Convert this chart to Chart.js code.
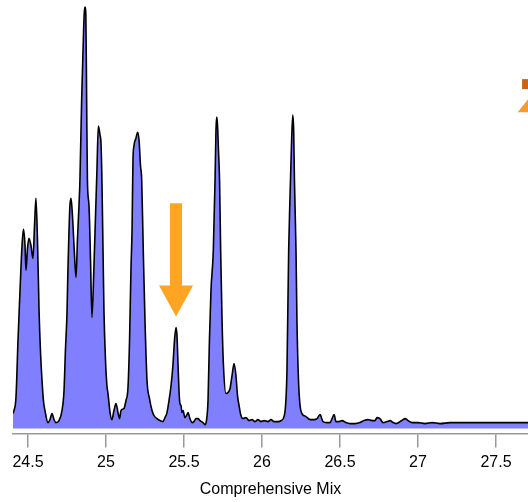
<!DOCTYPE html>
<html>
<head>
<meta charset="utf-8">
<script src="https://cdn.jsdelivr.net/npm/chart.js@4/dist/chart.umd.min.js"></script>
<style>
  html, body { margin: 0; padding: 0; background: #fff; }
  canvas { display: block; }
</style>
</head>
<body>
<canvas id="chromChart" width="528" height="502"></canvas>
<script>
// Retention time (min) and detector signal
const retention = [
    24.404, 24.410, 24.423, 24.436, 24.449, 24.462, 24.471, 24.481, 24.487, 24.497,
    24.506, 24.519, 24.532, 24.542, 24.551, 24.561, 24.571, 24.580, 24.590, 24.599,
    24.609, 24.628, 24.641, 24.654, 24.667, 24.679, 24.699, 24.718, 24.731, 24.740,
    24.750, 24.756, 24.763, 24.769, 24.776, 24.785, 24.795, 24.808, 24.817, 24.827,
    24.833, 24.844, 24.853, 24.860, 24.865, 24.871, 24.876, 24.881, 24.891, 24.901,
    24.910, 24.923, 24.936, 24.942, 24.951, 24.962, 24.968, 24.974, 24.981, 24.987,
    24.997, 25.006, 25.013, 25.026, 25.038, 25.051, 25.064, 25.077, 25.087, 25.096,
    25.115, 25.128, 25.141, 25.151, 25.160, 25.167, 25.173, 25.179, 25.192, 25.203,
    25.212, 25.221, 25.229, 25.239, 25.250, 25.263, 25.279, 25.295, 25.308, 25.327,
    25.346, 25.365, 25.378, 25.391, 25.404, 25.417, 25.429, 25.439, 25.449, 25.455,
    25.462, 25.468, 25.474, 25.481, 25.487, 25.494, 25.506, 25.519, 25.526, 25.538,
    25.551, 25.564, 25.577, 25.590, 25.603, 25.622, 25.635, 25.644, 25.654, 25.663,
    25.673, 25.688, 25.699, 25.705, 25.710, 25.715, 25.721, 25.728, 25.735, 25.744,
    25.753, 25.769, 25.782, 25.795, 25.808, 25.821, 25.833, 25.843, 25.853, 25.865,
    25.878, 25.897, 25.917, 25.936, 25.955, 25.974, 25.994, 26.013, 26.038, 26.058,
    26.077, 26.103, 26.122, 26.141, 26.151, 26.160, 26.171, 26.179, 26.188, 26.197,
    26.203, 26.208, 26.218, 26.224, 26.234, 26.244, 26.256, 26.282, 26.308, 26.333,
    26.353, 26.372, 26.391, 26.417, 26.436, 26.449, 26.462, 26.474, 26.494, 26.513,
    26.538, 26.564, 26.596, 26.628, 26.654, 26.679, 26.705, 26.724, 26.737, 26.756,
    26.776, 26.801, 26.821, 26.840, 26.859, 26.885, 26.904, 26.917, 26.936, 26.962,
    27.000, 27.045, 27.090, 27.141, 27.205, 27.333, 27.526, 27.705
];
const signal = [
    15, 18, 31, 88, 138, 183, 199, 183, 158, 180,
    190, 183, 170, 203, 230, 188, 118, 78, 48, 28,
    18, 6, 9, 15, 9, 6, 8, 18, 38, 78,
    115, 158, 198, 223, 230, 213, 183, 151, 188, 223,
    248, 328, 378, 413, 421, 413, 328, 248, 223, 168,
    111, 163, 228, 258, 302, 293, 285, 248, 178, 118,
    68, 43, 35, 16, 9, 18, 25, 16, 10, 18,
    20, 28, 41, 88, 158, 198, 268, 282, 290, 296,
    288, 263, 248, 178, 108, 48, 30, 18, 13, 10,
    8, 7, 11, 16, 28, 43, 63, 88, 101, 93,
    63, 38, 25, 23, 16, 18, 11, 14, 16, 10,
    6, 7, 10, 10, 8, 6, 4, 8, 28, 88,
    138, 178, 248, 298, 311, 303, 278, 248, 178, 108,
    63, 35, 36, 40, 53, 65, 53, 33, 23, 13,
    10, 11, 8, 9, 7, 9, 7, 8, 7, 9,
    7, 7, 8, 12, 23, 58, 178, 228, 278, 313,
    298, 248, 178, 108, 48, 23, 15, 12, 9, 9,
    10, 14, 7, 6, 6, 10, 14, 7, 7, 8,
    6, 5, 5, 6, 8, 9, 8, 8, 11, 10,
    6, 7, 8, 6, 5, 7, 9, 10, 8, 6,
    6, 5, 6, 5, 6, 6, 6, 6
];

const tickValues = [24.5, 25, 25.5, 26, 26.5, 27, 27.5];
const tickLabels = ['24.5', '25', '25.5', '26', '26.5', '27', '27.5'];
const axisTitle = 'Comprehensive Mix';

// Annotation arrows, in data coordinates
const markerArrow = { x: 25.449, top: 225, neck: 143, tip: 112 };
const edgeArrow = { x0: 27.667, top: 349, bottom: 339, triLeft: 27.639, triBase: 316, triTop: 329 };

Chart.defaults.font.family = "'Liberation Sans', Arial, sans-serif";
Chart.defaults.color = '#000';

const arrowPlugin = {
    id: 'arrows',
    afterDatasetsDraw(chart) {
        const { ctx, scales: { x, y } } = chart;
        ctx.save();
        // orange arrow pointing at the 25.45 peak
        const cx = x.getPixelForValue(markerArrow.x);
        const yTop = y.getPixelForValue(markerArrow.top);
        const yNeck = y.getPixelForValue(markerArrow.neck);
        const yTip = y.getPixelForValue(markerArrow.tip);
        ctx.fillStyle = '#ffa423';
        ctx.fillRect(cx - 6, yTop, 12, yNeck - yTop + 1);
        ctx.beginPath();
        ctx.moveTo(cx - 17, yNeck);
        ctx.lineTo(cx + 17, yNeck);
        ctx.lineTo(cx, yTip);
        ctx.closePath();
        ctx.fill();

        // second arrow, cut off at the right edge
        const right = chart.width;
        const rx = x.getPixelForValue(edgeArrow.x0);
        const rTop = y.getPixelForValue(edgeArrow.top);
        const rBot = y.getPixelForValue(edgeArrow.bottom);
        ctx.fillStyle = '#c4661c';
        ctx.fillRect(rx, rTop, right - rx, rBot - rTop);
        ctx.fillStyle = '#f59b34';
        ctx.beginPath();
        ctx.moveTo(x.getPixelForValue(edgeArrow.triLeft), y.getPixelForValue(edgeArrow.triBase));
        ctx.lineTo(right, y.getPixelForValue(edgeArrow.triTop));
        ctx.lineTo(right, y.getPixelForValue(edgeArrow.triBase));
        ctx.closePath();
        ctx.fill();
        ctx.restore();
    }
};

const ctx = document.getElementById('chromChart').getContext('2d');
new Chart(ctx, {
    type: 'line',
    data: {
        datasets: [{
            data: retention.map((t, i) => ({ x: t, y: signal[i] })),
            borderColor: '#000',
            borderWidth: 1.6,
            backgroundColor: '#8080ff',
            fill: 'origin',
            pointRadius: 0,
            cubicInterpolationMode: 'monotone'
        }]
    },
    options: {
        responsive: false,
        animation: false,
        devicePixelRatio: 1,
        layout: { padding: { left: 13, right: 0, top: 0, bottom: 0 } },
        plugins: {
            legend: { display: false },
            tooltip: { enabled: false }
        },
        scales: {
            x: {
                type: 'linear',
                min: 24.404,
                max: 27.705,
                afterBuildTicks: (scale) => {
                    scale.ticks = tickValues.map(v => ({ value: v }));
                },
                ticks: {
                    callback: (v, i) => tickLabels[i],
                    font: { size: 16 },
                    color: '#000',
                    padding: 5,
                    maxRotation: 0
                },
                grid: {
                    drawOnChartArea: false,
                    drawTicks: true,
                    tickLength: 14,
                    color: '#999',
                    lineWidth: 1.5
                },
                border: { color: '#999', width: 1.5 },
                title: {
                    display: true,
                    text: axisTitle,
                    font: { size: 16 },
                    color: '#000',
                    padding: { top: 3, bottom: 3 }
                }
            },
            y: {
                display: false,
                min: -5,
                max: 428
            }
        }
    },
    plugins: [arrowPlugin]
});
</script>
</body>
</html>
